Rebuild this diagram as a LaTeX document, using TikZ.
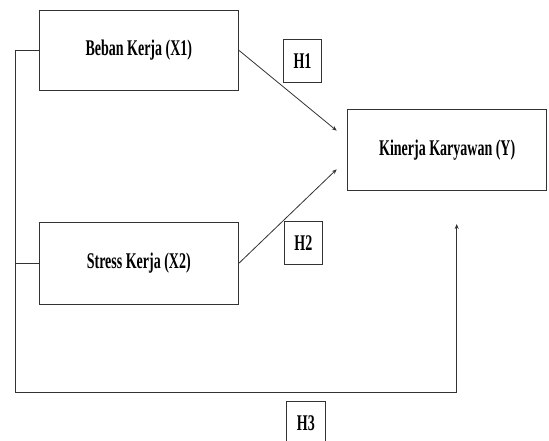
\documentclass[tikz,border=0pt]{standalone}
\usepackage{fontspec}
\setmainfont{Liberation Serif}
\usepackage{tikz}
\usetikzlibrary{positioning,arrows.meta}
\newcommand{\tallbf}[1]{\scalebox{1}[1.6]{\fontsize{14}{16}\selectfont\bfseries #1}}

\begin{document}
\begin{tikzpicture}[x=1pt, y=-1pt, on grid,
    var/.style={draw=black!80, line width=0.9pt, minimum width=199pt, minimum height=80pt, inner sep=0pt},
    hyp/.style={draw=black!80, line width=0.9pt, minimum width=38.5pt, minimum height=43pt, inner sep=0pt},
    link/.style={draw=black!80, line width=0.8pt},
    >={Stealth[length=5pt,width=4pt]}]
  \useasboundingbox (0,0) rectangle (549,441);
  \node[var] (beban) at (138.8,50.2) {\tallbf{Beban Kerja (X1)}};
  \node[var, minimum height=81.3pt] (stress) [below=213.2pt of beban] {\tallbf{Stress Kerja (X2)}};
  \node[var, minimum height=80.7pt] (kinerja) at (447.2,149.7) {\tallbf{Kinerja Karyawan (Y)}};
  \node[hyp] (h1) at (302.5,61.3) {\tallbf{H1}};
  \node[hyp] (h2) at (303.3,242.7) {\tallbf{H2}};
  \node[hyp] (h3) at (305.8,423.2) {\tallbf{H3}};
  \coordinate (tip1) at (336.7,130.7);
  \coordinate (tip2) at (336.7,169.3);
  \coordinate (tip3) at (456.7,224);
  \coordinate (corner) at (15.3,392);
  \path[->]
    (beban.east) edge[link] (tip1)
    (stress.east) edge[link] (tip2);
  \draw[link, ->] (beban.west) -| (corner) -| (tip3);
  \draw[link] (stress.west) -- (stress.west -| corner);
\end{tikzpicture}
\end{document}
